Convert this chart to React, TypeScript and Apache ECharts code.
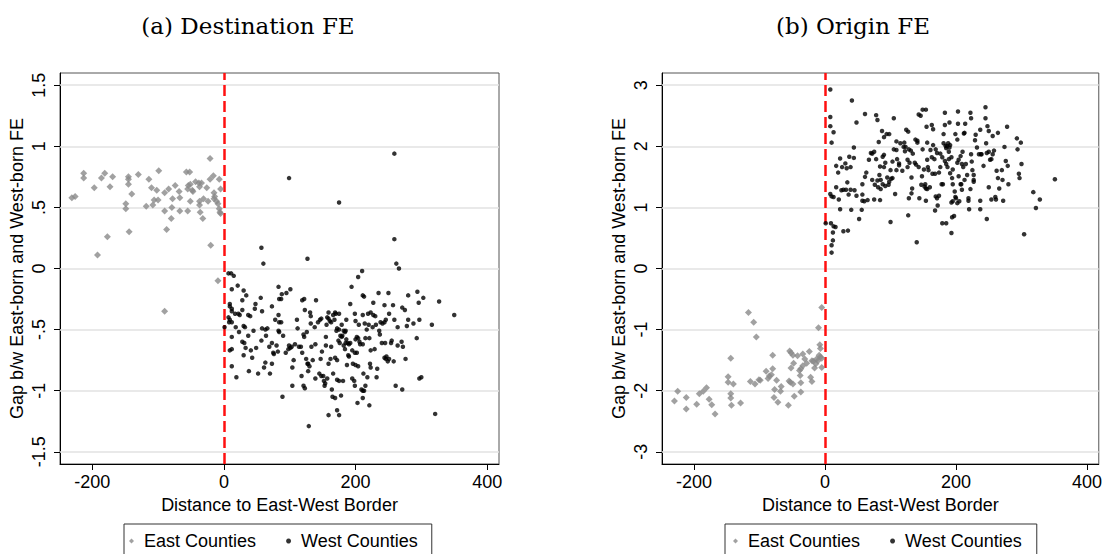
import React, { useEffect, useRef } from "react";
import * as echarts from "echarts";

// Panel (a): Destination FE
const eastA: [number, number][] = [
  [-231, 0.58], [-226, 0.59], [-213, 0.78], [-213, 0.74], [-197, 0.66], [-192, 0.11], [-186, 0.74], [-181, 0.78],
  [-177, 0.26], [-173, 0.67], [-169, 0.75], [-149, 0.53], [-149, 0.49], [-145, 0.75], [-145, 0.73], [-145, 0.69],
  [-144, 0.30], [-140, 0.61], [-130, 0.77], [-118, 0.51], [-114, 0.73], [-110, 0.66], [-108, 0.52], [-106, 0.56],
  [-102, 0.64], [-100, 0.56], [-99, 0.80], [-90, 0.47], [-90, 0.62], [-90, -0.35], [-87, 0.32], [-84, 0.65],
  [-80, 0.41], [-79, 0.50], [-78, 0.57], [-74, 0.68], [-68, 0.63], [-67, 0.58], [-67, 0.47], [-57, 0.79],
  [-55, 0.47], [-55, 0.65], [-54, 0.68], [-52, 0.79], [-51, 0.69], [-51, 0.55], [-48, 0.64], [-47, 0.63],
  [-43, 0.71], [-38, 0.70], [-37, 0.55], [-37, 0.52], [-37, 0.67], [-34, 0.70], [-36, 0.46], [-32, 0.41],
  [-31, 0.57], [-26, 0.66], [-24, 0.55], [-21, 0.90], [-21, 0.73], [-20, 0.19], [-16, 0.76], [-15, 0.62],
  [-14, 0.59], [-15, 0.57], [-11, 0.55], [-9, 0.53], [-7, 0.49], [-6, 0.46], [-5, 0.45], [-7, 0.73],
  [-5, 0.65], [-9, -0.10],
];

const westA: [number, number][] = [
  [259, 0.94], [99, 0.74], [175, 0.54], [259, 0.24], [57, 0.17], [60, 0.04], [127, 0.08], [262, 0.04], [266, 0.0],
  [7, -0.04], [11, -0.04], [15, -0.06], [12, -0.17], [21, -0.14], [9, -0.29], [9, -0.31], [12, -0.33], [12, -0.35],
  [7, -0.40], [9, -0.42], [12, -0.44], [8, -0.44], [1, -0.48], [17, -0.37], [22, -0.37], [24, -0.38], [12, -0.56],
  [18, -0.48], [12, -0.66], [9, -0.67], [12, -0.80], [19, -0.89], [28, -0.26], [30, -0.18], [34, -0.22], [28, -0.34],
  [30, -0.47], [32, -0.48], [23, -0.52], [28, -0.60], [31, -0.61], [30, -0.71], [33, -0.65], [37, -0.38], [40, -0.39],
  [37, -0.55], [38, -0.84], [41, -0.67], [43, -0.73], [45, -0.51], [47, -0.33], [48, -0.29], [49, -0.65], [52, -0.86],
  [56, -0.24], [58, -0.35], [58, -0.49], [57, -0.59], [61, -0.81], [63, -0.77], [63, -0.50], [66, -0.49], [64, -0.55],
  [70, -0.86], [69, -0.64], [73, -0.31], [73, -0.61], [73, -0.78], [75, -0.69], [76, -0.70], [78, -0.42], [80, -0.63],
  [83, -0.15], [84, -0.25], [87, -0.25], [84, -0.44], [87, -0.44], [83, -0.38], [83, -0.51], [84, -0.52], [82, -0.68],
  [88, -0.21], [90, -0.55], [89, -1.05], [95, -0.20], [101, -0.17], [94, -0.69], [98, -0.66], [99, -0.63], [101, -0.65],
  [103, -0.64], [104, -0.96], [104, -0.81], [106, -0.75], [108, -0.62], [111, -0.42], [112, -0.49], [114, -0.64],
  [117, -0.64], [118, -0.88], [119, -0.26], [122, -0.25], [119, -0.69], [121, -0.96], [123, -0.98], [122, -0.56],
  [121, -0.54], [123, -0.34], [125, -0.74], [126, -0.52], [127, -0.78], [128, -0.78], [130, -0.80], [128, -0.84],
  [129, -1.29], [131, -0.36], [132, -0.39], [132, -0.45], [133, -0.64], [135, -0.75], [138, -0.48], [140, -0.26],
  [139, -0.62], [139, -0.90], [143, -0.44], [146, -0.42], [148, -0.41], [145, -0.86], [148, -0.88], [151, -0.88],
  [147, -0.74], [149, -0.68], [152, -0.92], [154, -0.94], [157, -0.90], [153, -0.96], [155, -0.56], [155, -0.63],
  [156, -0.46], [157, -0.40], [159, -0.36], [159, -0.41], [159, -0.78], [159, -1.20], [161, -0.43], [163, -0.44],
  [162, -0.74], [163, -0.64], [164, -0.99], [165, -1.05], [169, -1.06], [166, -0.86], [166, -0.38], [169, -0.36],
  [170, -0.37], [168, -0.42], [169, -0.73], [172, -0.75], [171, -0.51], [172, -0.49], [175, -0.50], [172, -1.16],
  [175, -1.20], [174, -0.59], [176, -0.61], [177, -0.55], [175, -0.37], [172, -0.91], [175, -0.92], [178, -1.04],
  [179, -0.56], [179, -0.46], [180, -0.55], [182, -0.51], [181, -0.92], [182, -0.63], [184, -0.66], [184, -0.52],
  [185, -0.51], [185, -0.61], [186, -0.58], [186, -0.42], [187, -0.79], [188, -0.61], [190, -0.62], [192, -0.61],
  [189, -0.71], [190, -0.72], [192, -0.29], [194, -0.15], [195, -0.67], [195, -0.90], [198, -0.92], [199, -0.96],
  [196, -0.78], [200, -0.79], [199, -0.37], [199, -0.69], [202, -0.69], [200, -0.58], [202, -0.56], [204, -0.57],
  [200, -0.43], [203, -1.10], [204, -0.07], [205, -0.46], [204, -0.80], [206, -0.60], [207, -0.62], [211, -0.62],
  [210, -0.02], [211, -0.22], [213, -0.23], [211, -0.38], [209, -0.99], [211, -1.00], [213, -1.00], [211, -1.06],
  [212, -0.86], [214, -0.45], [215, -0.57], [215, -0.96], [217, -0.50], [218, -0.89], [219, -0.37], [220, -0.46],
  [221, -0.57], [221, -1.12], [222, -0.78], [223, -0.81], [223, -0.67], [223, -0.36], [227, -0.38], [230, -0.39],
  [226, -0.48], [227, -0.28], [229, -0.66], [231, -0.46], [232, -0.89], [233, -0.82], [235, -0.20], [236, -0.51],
  [237, -0.54], [238, -0.44], [240, -0.61], [241, -0.45], [244, -0.44], [244, -0.30], [245, -0.61], [244, -0.73],
  [246, -0.74], [247, -0.72], [246, -0.42], [249, -0.76], [251, -0.74], [250, -0.20], [251, -0.37], [254, -0.61],
  [255, -0.59], [257, -0.30], [258, -0.76], [259, -0.42], [261, -0.96], [264, -0.63], [264, -0.48], [270, -0.60],
  [271, -0.32], [275, -0.34], [271, -0.99], [272, -0.64], [276, -0.74], [278, -0.47], [280, -0.22], [280, -0.42],
  [288, -0.45], [293, -0.57], [294, -0.19], [296, -0.28], [297, -0.42], [297, -0.90], [300, -0.89], [303, -0.24],
  [316, -0.46], [321, -1.19], [327, -0.27], [350, -0.38],
];

// Panel (b): Origin FE
const eastB: [number, number][] = [
  [-230, -2.17], [-225, -2.01], [-212, -2.11], [-212, -2.30], [-196, -2.22], [-192, -2.05], [-186, -2.01], [-181, -1.95],
  [-177, -2.14], [-173, -2.23], [-168, -2.38], [-148, -1.77], [-148, -1.86], [-144, -1.47], [-144, -2.05], [-144, -2.12],
  [-143, -2.24], [-140, -1.89], [-129, -2.20], [-117, -0.72], [-114, -1.85], [-109, -0.88], [-107, -1.89], [-105, -1.12],
  [-101, -1.82], [-99, -1.83], [-90, -1.68], [-87, -1.80], [-85, -1.76], [-82, -1.74], [-80, -1.42], [-80, -1.64],
  [-78, -2.11], [-77, -1.98], [-74, -1.83], [-72, -2.19], [-67, -1.93], [-68, -2.01], [-56, -2.24], [-54, -1.35],
  [-52, -1.38], [-49, -1.42], [-55, -1.84], [-53, -1.86], [-49, -1.89], [-52, -1.63], [-48, -1.55], [-47, -2.09],
  [-42, -1.43], [-39, -1.67], [-37, -1.64], [-37, -1.87], [-38, -1.75], [-37, -2.02], [-34, -1.40], [-34, -1.59],
  [-31, -1.48], [-28, -1.55], [-24, -1.36], [-22, -1.78], [-20, -1.85], [-20, -1.51], [-18, -1.52], [-16, -1.63],
  [-14, -1.56], [-13, -1.48], [-11, -1.51], [-10, -0.97], [-9, -1.42], [-8, -1.25], [-7, -1.31], [-7, -1.45],
  [-5, -1.62], [-5, -1.47], [-5, -0.64],
];

const westB: [number, number][] = [
  [8, 2.93], [41, 2.75], [8, 2.48], [8, 2.33], [13, 2.23], [10, 2.06], [17, 1.68], [20, 1.57], [23, 1.80], [26, 1.66],
  [31, 1.72], [33, 1.64], [37, 1.83], [39, 1.66], [44, 1.98], [44, 1.81], [48, 2.39], [61, 2.53], [8, 1.22], [10, 1.18],
  [13, 1.17], [17, 1.33], [21, 1.13], [25, 1.28], [28, 1.29], [32, 1.29], [34, 1.41], [36, 1.21], [39, 1.29], [45, 1.28],
  [48, 1.19], [23, 0.97], [40, 0.96], [1, 0.74], [9, 0.74], [13, 0.69], [16, 0.68], [12, 0.59], [12, 0.46], [10, 0.38],
  [10, 0.26], [28, 0.61], [35, 0.62], [52, 0.81], [56, 0.96], [57, 1.38], [57, 1.21], [60, 1.10], [57, 1.11], [61, 1.50],
  [63, 1.57], [65, 1.12], [67, 1.78], [70, 1.89], [72, 1.88], [75, 1.91], [78, 1.79], [80, 1.44], [83, 1.53], [84, 1.67],
  [85, 1.45], [85, 1.30], [75, 1.13], [78, 2.51], [80, 2.43], [82, 2.07], [84, 1.12], [87, 2.25], [90, 2.15], [94, 2.20],
  [98, 2.20], [88, 1.83], [90, 1.86], [92, 1.73], [90, 1.66], [88, 1.38], [92, 1.35], [95, 1.49], [98, 1.42], [101, 1.47],
  [97, 1.37], [100, 0.76], [105, 2.46], [105, 1.95], [109, 2.08], [109, 1.94], [110, 1.79], [113, 1.69], [113, 1.72],
  [107, 1.22], [115, 2.05], [118, 1.60], [120, 1.99], [121, 2.06], [122, 1.92], [123, 1.99], [124, 2.27], [126, 1.78],
  [126, 1.66], [127, 2.24], [128, 1.95], [129, 1.73], [127, 0.87], [131, 1.93], [132, 1.49], [133, 1.31], [134, 1.88],
  [137, 1.73], [138, 2.11], [139, 1.70], [141, 2.09], [141, 2.06], [140, 0.43], [143, 2.52], [146, 2.50], [149, 2.60],
  [154, 2.60], [144, 1.15], [147, 1.37], [148, 1.51], [149, 1.95], [151, 1.62], [153, 1.38], [152, 1.34], [154, 1.31],
  [156, 1.30], [156, 2.06], [156, 1.78], [157, 1.66], [158, 1.61], [155, 2.32], [154, 1.11], [161, 1.94], [163, 1.82],
  [165, 2.02], [167, 1.79], [169, 1.95], [171, 1.89], [163, 2.35], [165, 2.28], [164, 1.55], [168, 1.55], [169, 1.18],
  [171, 1.15], [168, 0.95], [172, 1.03], [174, 1.19], [174, 1.57], [176, 1.88], [178, 1.38], [180, 1.38], [179, 0.74],
  [185, 0.74], [181, 2.20], [181, 2.05], [184, 2.01], [185, 1.97], [188, 2.05], [186, 2.00], [189, 1.91], [191, 2.02],
  [190, 1.98], [183, 2.55], [183, 2.35], [190, 2.39], [183, 1.76], [185, 1.71], [187, 1.66], [189, 1.79], [191, 1.56],
  [193, 1.82], [195, 1.62], [194, 1.48], [195, 1.38], [193, 1.08], [195, 1.10], [193, 0.58], [194, 0.84], [197, 0.86],
  [198, 1.26], [199, 1.17], [200, 1.15], [199, 2.20], [202, 2.11], [203, 2.57], [203, 2.37], [202, 1.73], [204, 1.78],
  [207, 1.84], [204, 1.51], [207, 1.38], [208, 1.38], [202, 1.07], [205, 1.10], [209, 1.71], [211, 1.66], [210, 1.91],
  [213, 2.22], [214, 2.37], [215, 1.71], [217, 1.53], [213, 1.45], [212, 2.21], [219, 1.15], [219, 1.11], [220, 0.97],
  [222, 2.55], [223, 2.46], [223, 1.87], [224, 1.75], [225, 1.61], [227, 1.53], [227, 1.45], [229, 2.10], [230, 2.19],
  [232, 1.98], [235, 1.87], [238, 1.87], [239, 1.87], [237, 1.11], [237, 0.97], [237, 2.27], [242, 1.68], [245, 2.64],
  [245, 2.46], [246, 2.05], [247, 1.89], [250, 1.91], [252, 1.78], [254, 1.79], [256, 1.87], [258, 1.93], [248, 2.33],
  [250, 2.25], [247, 0.81], [250, 1.33], [254, 1.13], [260, 1.17], [261, 1.13], [256, 2.17], [262, 1.60], [264, 2.22],
  [264, 1.48], [266, 1.31], [270, 1.61], [271, 1.45], [272, 1.11], [274, 1.99], [276, 1.76], [278, 2.32], [279, 1.68],
  [280, 1.38], [293, 2.13], [294, 1.95], [296, 1.55], [297, 1.48], [299, 2.06], [300, 1.71], [304, 0.56], [318, 1.25],
  [322, 0.99], [328, 1.13], [351, 1.46], [103, 1.75], [100, 1.61], [109, 1.61], [76, 1.37], [81, 1.33], [72, 1.45],
  [103, 1.48], [128, 1.15], [132, 1.23], [143, 1.66], [160, 1.33], [176, 1.66], [179, 1.82], [209, 1.29], [222, 1.30],
  [227, 1.42],
];

const xTicks = [-200, 0, 200, 400];
const yTicksA = [-1.5, -1, -0.5, 0, 0.5, 1, 1.5];
const yTicksB = [-3, -2, -1, 0, 1, 2, 3];
const titles = ["(a) Destination FE", "(b) Origin FE"];
const xName = "Distance to East-West Border";
const yName = "Gap b/w East-born and West-born FE";
const legendNames = ["East Counties", "West Counties"];

const SANS = "Liberation Sans";
const fmt = (v: number) => {
  if (v === 0) return "0";
  const s = String(v);
  return s.replace(/^0\./, ".").replace(/^-0\./, "-.");
};

export default function App() {
  const ref = useRef<HTMLDivElement>(null);
  useEffect(() => {
    if (!ref.current) return;
    const chart = echarts.init(ref.current, undefined, { renderer: "svg" });
    const grids = [
      { left: 60, top: 73, width: 439, height: 391 },
      { left: 662, top: 73, width: 438, height: 391 },
    ];
    const yRanges = [
      { min: -1.6, max: 1.6, ticks: yTicksA },
      { min: -3.2, max: 3.2, ticks: yTicksB },
    ];
    const axisText = { fontSize: 18, fontFamily: SANS, color: "#000" };
    const xAxes = grids.map((_, i) => ({
      gridIndex: i,
      type: "value",
      min: -249,
      max: 418,
      axisLine: { show: true, onZero: false, lineStyle: { color: "#000", width: 1 } },
      axisTick: { show: true, length: 6, customValues: xTicks, lineStyle: { color: "#000" } },
      axisLabel: { ...axisText, customValues: xTicks, margin: 9, formatter: (v: number) => String(v) },
      splitLine: { show: false },
      name: xName,
      nameLocation: "middle",
      nameGap: 30,
      nameTextStyle: axisText,
    }));
    const yAxes = grids.map((_, i) => ({
      gridIndex: i,
      type: "value",
      min: yRanges[i].min,
      max: yRanges[i].max,
      axisLine: { show: true, onZero: false, lineStyle: { color: "#000", width: 1 } },
      axisTick: { show: true, length: 6, customValues: yRanges[i].ticks, lineStyle: { color: "#000" } },
      axisLabel: { ...axisText, customValues: yRanges[i].ticks, rotate: 90, margin: 12, formatter: fmt },
      splitLine: { show: false },
      name: yName,
      nameLocation: "middle",
      nameRotate: 90,
      nameGap: 34,
      nameTextStyle: axisText,
    }));
    const series: any[] = [];
    const panels = [
      { east: eastA, west: westA },
      { east: eastB, west: westB },
    ];
    panels.forEach((p, i) => {
      series.push({
        type: "scatter",
        name: legendNames[0],
        xAxisIndex: i,
        yAxisIndex: i,
        data: p.east,
        symbol: "diamond",
        symbolSize: 7,
        itemStyle: { color: "#8a8a8a" },
        z: 3,
        markLine: {
          silent: true,
          symbol: "none",
          z: 1,
          label: { show: false },
          lineStyle: { color: "#e2e2e2", width: 1.5, type: "solid" },
          data: yRanges[i].ticks.map((t) => ({ yAxis: t })),
        },
      });
      series.push({
        type: "scatter",
        name: legendNames[1],
        xAxisIndex: i,
        yAxisIndex: i,
        data: p.west,
        symbol: "circle",
        symbolSize: 4.5,
        itemStyle: { color: "#000" },
        z: 4,
        markLine: {
          silent: true,
          symbol: "none",
          z: 2,
          label: { show: false },
          lineStyle: { color: "#ff1010", width: 2.5, type: [11, 5] },
          data: [{ xAxis: 0 }],
        },
      });
    });
    const legendBase = {
      orient: "horizontal",
      top: 524,
      data: [
        { name: legendNames[0], icon: "diamond" },
        { name: legendNames[1], icon: "circle" },
      ],
      itemWidth: 5,
      itemHeight: 5,
      itemGap: 30,
      borderColor: "#333",
      borderWidth: 1,
      borderRadius: 0,
      textStyle: { ...axisText, padding: [0, 0, 0, 5] },
      selectedMode: false,
    };
    chart.setOption({
      animation: false,
      backgroundColor: "#fff",
      grid: grids.map((g) => ({ ...g, show: true, borderColor: "#555", borderWidth: 1, backgroundColor: "transparent" })),
      xAxis: xAxes,
      yAxis: yAxes,
      series,
      legend: [
        { ...legendBase, left: 124, padding: [8, 14, 20, 5] },
        { ...legendBase, left: 725, padding: [8, 15, 20, 8] },
      ],
      graphic: titles.map((t, i) => ({
        type: "text",
        x: i === 0 ? 248 : 853,
        y: 26,
        style: {
          text: t,
          fontSize: 23,
          fontFamily: "DejaVu Serif",
          fill: "#000",
          align: "center",
          verticalAlign: "middle",
        },
      })),
    });
    return () => chart.dispose();
  }, []);
  return <div ref={ref} style={{ position: "absolute", left: 0, top: 0, width: 1105, height: 554 }} />;
}
